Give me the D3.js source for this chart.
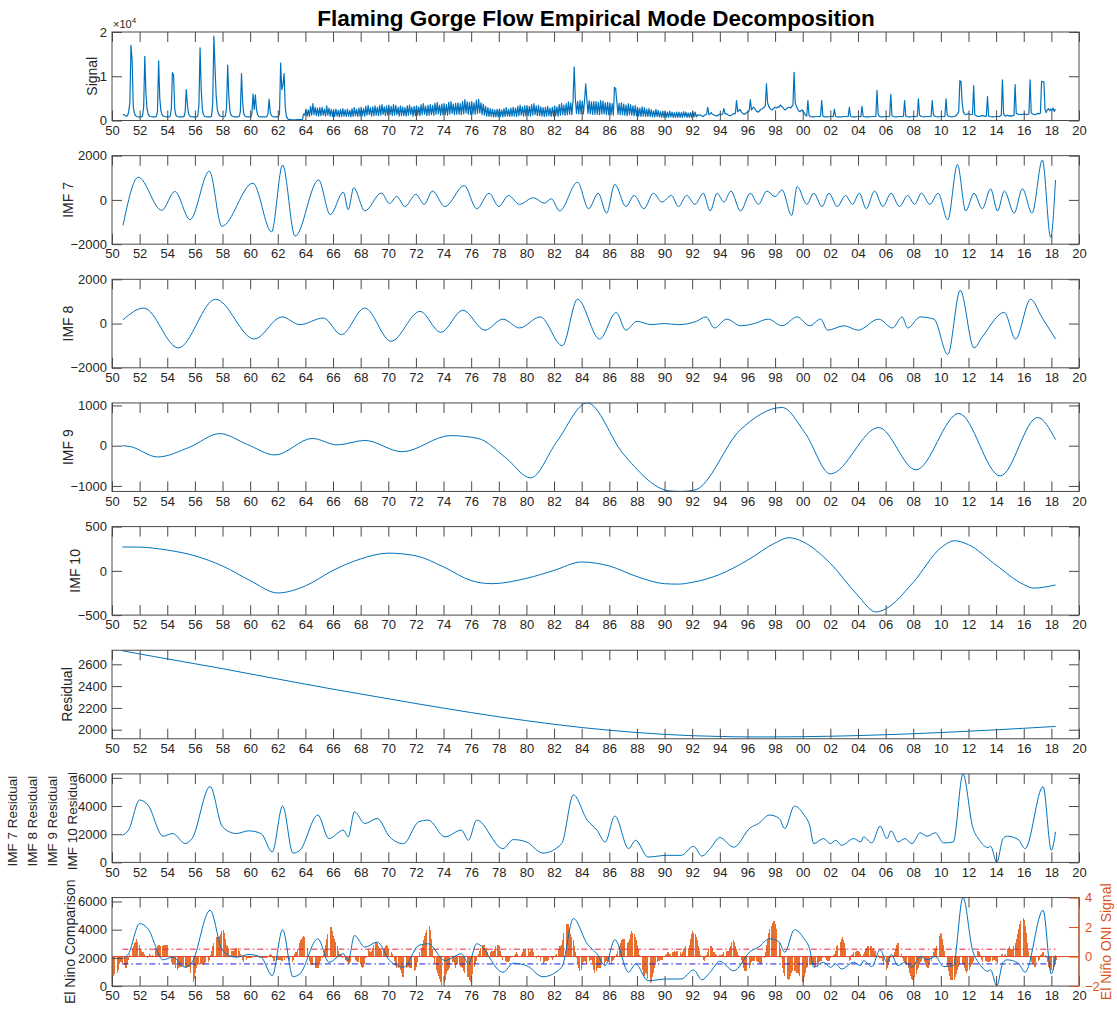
<!DOCTYPE html>
<html>
<head>
<meta charset="utf-8">
<script src="https://cdn.jsdelivr.net/npm/d3@7"></script>
<style>
  body { margin: 0; background: #fff; }
  svg { display: block; }
  text { font-family: "Liberation Sans", Arial, sans-serif; }
</style>
</head>
<body>
<svg id="chart" width="1117" height="1011"></svg>
<script>
// ---------------------------------------------------------------
// Flaming Gorge flow and its empirical mode decomposition
// ---------------------------------------------------------------

// Monthly flow (cfs), starting October 1950. From 1964 to spring 1992
// successive months alternate between the high and low of the daily
// hydropower swings.
const flowStart = 1950.75;
const flow = [
  1400, 1300, 1100,
  1000, 1100, 2000, 4000, 17000, 13500, 3000, 1600, 1100, 900, 850, 800,
  800, 800, 1000, 3000, 14500, 6000, 2500, 1400, 1000, 900, 850, 800,
  800, 800, 900, 2000, 13500, 5000, 2200, 1300, 1000, 900, 850, 800,
  800, 800, 900, 2500, 10800, 10300, 2500, 1200, 900, 850, 800, 800,
  800, 800, 900, 1800, 7000, 3500, 1600, 1000, 850, 800, 800, 800,
  800, 800, 1000, 3500, 16400, 7000, 2500, 1300, 900, 850, 800, 800,
  800, 800, 1000, 4000, 19100, 12000, 5500, 2500, 1500, 1100, 950, 900,
  850, 850, 1000, 3000, 12500, 5500, 2000, 1200, 950, 850, 800, 800,
  800, 800, 900, 2000, 10600, 4000, 1500, 1000, 850, 800, 800, 800,
  800, 1500, 6000, 2500, 5800, 2500, 1300, 900, 800, 800, 800, 800,
  800, 800, 900, 1500, 4800, 1800, 1100, 900, 800, 800, 800, 800,
  800, 1500, 13000, 7000, 8000, 10600, 3000, 1000, 400, 250, 200, 180,
  170, 160, 160, 170, 200, 220, 220, 200, 180, 300, 1500, 1200,
  2600, 1000, 2400, 900, 3200, 1200, 3800, 1300, 3000, 1100, 2800, 1000,
  2900, 1100, 3000, 1200, 2600, 1000, 3300, 1200, 2800, 1000, 2500, 900,
  2400, 900, 2600, 1000, 2300, 800, 2500, 900, 2700, 1000, 2400, 900,
  2600, 1000, 2300, 800, 2700, 900, 2900, 1100, 2500, 900, 2800, 1000,
  3000, 1100, 2700, 1000, 3200, 1200, 3400, 1300, 2900, 1000, 3100, 1100,
  3300, 1200, 3000, 1100, 3400, 1200, 3600, 1400, 3100, 1100, 3300, 1200,
  3500, 1300, 3200, 1100, 3600, 1200, 3400, 1300, 3000, 1000, 3300, 1100,
  3100, 1100, 2900, 1000, 3300, 1200, 3500, 1300, 3000, 1000, 3200, 1100,
  3300, 1200, 3100, 1100, 3600, 1300, 3800, 1400, 3200, 1100, 3400, 1200,
  3600, 1300, 3400, 1200, 3900, 1400, 4100, 1500, 3500, 1200, 3700, 1300,
  3800, 1300, 3600, 1200, 4100, 1500, 4300, 1600, 3700, 1300, 3900, 1400,
  4000, 1400, 3800, 1300, 4300, 1500, 4700, 1700, 4200, 1400, 4100, 1400,
  4300, 1500, 4000, 1400, 4600, 1600, 4800, 1700, 4000, 1300, 3700, 1200,
  3200, 1000, 2900, 900, 2700, 900, 2600, 800, 2400, 800, 2500, 800,
  2600, 900, 2400, 800, 2700, 900, 2900, 1000, 2500, 900, 2800, 1000,
  3000, 1000, 2800, 900, 3200, 1100, 3500, 1200, 3100, 1000, 3300, 1100,
  3400, 1100, 3200, 1000, 3600, 1200, 3800, 1300, 3300, 1100, 3400, 1100,
  3100, 1000, 2900, 900, 3000, 1000, 3200, 1100, 2800, 900, 3000, 1000,
  3300, 1100, 3100, 1000, 3600, 1200, 3900, 1300, 3500, 1200, 3800, 1300,
  4200, 1400, 4000, 1300, 4600, 12100, 4800, 1600, 4300, 1500, 4500, 1500,
  4400, 1500, 4500, 8300, 4600, 1600, 4500, 1500, 4200, 1400, 4300, 1400,
  4300, 1400, 4100, 1300, 4500, 1500, 4400, 1500, 4000, 1300, 4100, 1300,
  4000, 1300, 3800, 1200, 7500, 7200, 4300, 1400, 3900, 1300, 4000, 1300,
  3700, 1200, 3500, 1100, 3800, 1300, 3600, 1200, 3300, 1100, 3400, 1100,
  3000, 1000, 2800, 900, 3100, 1000, 2900, 900, 2600, 900, 2700, 900,
  2400, 800, 2200, 800, 2500, 900, 2300, 800, 2000, 700, 2100, 700,
  2000, 700, 1900, 700, 2100, 800, 1900, 700, 1800, 700, 1900, 700,
  1900, 700, 1800, 700, 2000, 800, 1900, 700, 1700, 700, 1800, 700,
  2000, 800, 1900, 800, 1300, 1100, 1300, 1200, 1000, 900, 1100, 1300,
  1400, 3000, 1300, 1500, 1800, 1400, 1300, 1200, 1100, 1000, 1200, 1400,
  1400, 1300, 1500, 2700, 1600, 1500, 1400, 1200, 1100, 1100, 1300, 1500,
  1500, 1600, 4500, 2000, 2200, 2500, 2000, 1700, 1500, 1400, 1600, 1800,
  2000, 2200, 4700, 2400, 2800, 3000, 2600, 2200, 2000, 1900, 2200, 2500,
  2600, 2800, 3000, 3300, 8300, 4000, 3200, 2800, 2500, 2400, 2700, 2900,
  3000, 2800, 3100, 3000, 3500, 3300, 3000, 2700, 2400, 2500, 2800, 3000,
  3000, 2800, 3200, 3400, 10900, 4000, 3200, 2600, 2200, 2000, 2200, 2400,
  2000, 1600, 1200, 1000, 4500, 1200, 900, 850, 800, 800, 850, 900,
  900, 900, 850, 1000, 4500, 1000, 850, 800, 800, 800, 850, 900,
  900, 900, 850, 2600, 900, 850, 800, 800, 800, 800, 850, 900,
  900, 900, 850, 900, 3000, 900, 850, 800, 800, 800, 850, 900,
  900, 900, 850, 3200, 900, 850, 800, 800, 800, 800, 850, 900,
  900, 900, 850, 900, 6800, 1500, 900, 850, 800, 800, 850, 900,
  900, 900, 850, 900, 5900, 1200, 900, 850, 800, 800, 850, 900,
  900, 900, 850, 900, 4500, 1000, 900, 850, 800, 800, 850, 900,
  900, 900, 850, 900, 4900, 1200, 1000, 900, 850, 800, 850, 900,
  900, 900, 850, 900, 4500, 1400, 1000, 900, 850, 800, 850, 900,
  900, 900, 850, 900, 4900, 1300, 1000, 900, 850, 800, 850, 900,
  1000, 1200, 1500, 2000, 9000, 8800, 4000, 2000, 1500, 1300, 1400, 1500,
  1500, 1400, 1300, 1400, 7900, 1300, 1100, 1000, 900, 900, 1000, 1100,
  1100, 1000, 1000, 900, 5400, 1000, 900, 850, 800, 800, 850, 900,
  900, 900, 850, 1000, 1200, 9200, 1500, 1100, 1000, 1200, 1100, 1000,
  1100, 1000, 1100, 1200, 8100, 1600, 1500, 1400, 1300, 1400, 1300, 1400,
  1500, 1400, 1300, 1400, 1500, 9200, 1800, 1500, 1400, 1300, 1400, 1500,
  1600, 1500, 1700, 8850, 8800, 8700, 2500, 1800, 2400, 2700, 2200, 2600,
  2300, 2800, 2000, 2600
];

// Intrinsic mode functions: [decimal year, cfs]
const imf7 = [
  [1950.8,-1150],[1951.9,1025],[1953.6,-470],[1954.55,380],[1955.65,-890],[1957.05,1300],
  [1957.95,-1190],[1960.2,755],[1961.55,-1445],[1962.35,1580],[1963.25,-1640],[1964.95,900],
  [1965.8,-665],[1966.75,350],[1967.1,-440],[1967.5,550],[1968.3,-500],[1969.5,310],
  [1970.1,-170],[1970.6,160],[1971.2,-300],[1972,250],[1972.6,-200],[1973.2,400],
  [1974.1,-300],[1975.5,650],[1976.4,-400],[1977.3,300],[1978,-300],[1978.7,200],
  [1979.5,-200],[1980.5,100],[1981.3,-150],[1981.8,50],[1982.4,-500],[1983.7,800],
  [1984.5,-400],[1985.2,300],[1985.8,-600],[1986.4,700],[1987.2,-300],[1987.8,200],
  [1988.5,-400],[1989.2,300],[1989.8,-100],[1990.5,200],[1991,-300],[1991.6,200],
  [1992.2,-200],[1992.8,300],[1993.3,-500],[1993.8,300],[1994.3,-100],[1994.8,400],
  [1995.5,-500],[1996.2,300],[1996.8,-200],[1997.4,400],[1998.0,150],[1998.5,450],
  [1999.2,-700],[1999.6,600],[2000.3,-200],[2000.8,300],[2001.4,-300],[2001.9,300],
  [2002.5,-300],[2003.1,200],[2003.6,-200],[2004.1,300],[2004.6,-400],[2005.2,400],
  [2005.8,-300],[2006.4,300],[2007,-300],[2007.6,200],[2008.1,-200],[2008.6,300],
  [2009.2,-200],[2009.8,300],[2010.5,-900],[2011.2,1600],[2011.8,-500],[2012.4,300],
  [2013,-400],[2013.6,500],[2014.1,-500],[2014.6,400],[2015.3,-600],[2015.9,500],
  [2016.6,-600],[2017.35,1800],[2017.95,-1700],[2018.3,900]
];
const imf8 = [
  [1950.8,170],[1952.3,700],[1954.8,-1100],[1957.5,1100],[1960.3,-700],[1962.3,300],
  [1963.6,-50],[1965.3,250],[1966.6,-500],[1968.3,700],[1970.2,-800],[1972.3,550],
  [1973.8,-400],[1975.4,600],[1977,-300],[1978.3,200],[1979.5,-200],[1981,300],
  [1982.6,-1000],[1983.7,1100],[1985.3,-700],[1986.5,500],[1987.2,-300],[1988,100],
  [1989,-50],[1990,0],[1991,-50],[1992.3,100],[1993,300],[1993.6,-200],[1994.5,200],
  [1995.5,-100],[1996.5,0],[1997.5,200],[1998.5,-100],[1999.6,300],[2000.5,-100],
  [2001.3,200],[2001.8,-300],[2003,-100],[2004,-300],[2005.5,200],[2006.5,-200],
  [2007.2,300],[2007.6,-200],[2008.5,300],[2009.5,200],[2010.5,-1400],[2011.4,1500],
  [2012.4,-1100],[2013,-600],[2014.6,500],[2015.4,-700],[2016.5,1100],[2017.3,300],
  [2018.3,-700]
];
const imf9 = [
  [1950.75,0],[1951.3,-20],[1953.3,-280],[1955.6,-40],[1957.8,300],[1959.8,30],
  [1961.8,-230],[1964.5,180],[1966.3,20],[1968.3,130],[1971,-150],[1974.5,250],
  [1976.5,180],[1978.5,-300],[1980.3,-800],[1982.2,100],[1984.4,1062],[1987,-200],
  [1990.3,-1120],[1991.2,-1137],[1992.2,-1100],[1995.5,400],[1998.5,950],[2000.2,300],
  [2002,-700],[2005.5,450],[2008.2,-600],[2011.3,800],[2014.3,-750],[2017,700],[2018.3,150]
];
const imf10 = [
  [1950.75,270],[1952,268],[1954,235],[1956,170],[1958,55],[1960,-110],[1962,-250],
  [1964,-170],[1966,5],[1968,135],[1970,200],[1972,170],[1974,45],[1976,-110],
  [1977.5,-145],[1980,-85],[1982,5],[1984,100],[1986,55],[1988,-65],[1990,-145],
  [1991,-150],[1992,-130],[1994,-40],[1996,120],[1998,315],[1999,375],[2000,330],
  [2002,85],[2004,-280],[2005.3,-465],[2006,-430],[2008,-130],[2010,260],[2011,340],
  [2012,295],[2014,65],[2016,-155],[2016.7,-195],[2018.3,-160]
];
const residual = [
  [1950.75,2725],[1952,2695],[1954,2650],[1956,2605],[1958,2560],[1960,2512],
  [1962,2465],[1964,2418],[1966,2372],[1968,2328],[1970,2284],[1972,2240],
  [1974,2198],[1976,2157],[1978,2118],[1980,2083],[1982,2050],[1984,2020],
  [1986,1995],[1988,1974],[1990,1957],[1992,1945],[1994,1938],[1996,1934],
  [1998,1934],[2000,1936],[2002,1940],[2004,1946],[2006,1954],[2008,1963],
  [2010,1974],[2012,1986],[2014,1999],[2016,2013],[2018.3,2030]
];
// Sum of IMF 7-10 and the residual
const lowFreq = [
  [1950.75,1930],[1951.2,2300],[1952.0,4430],[1952.6,4070],[1953.7,1860],[1954.4,2050],
  [1955.3,1340],[1955.8,1700],[1957.1,5380],[1958.0,2520],[1959.0,2050],[1959.9,2240],
  [1960.8,2040],[1961.6,740],[1962.35,4000],[1963.1,660],[1963.6,860],[1964.9,3360],
  [1965.7,1690],[1966.75,2290],[1967.1,1810],[1967.55,3590],[1968.3,2760],[1969.2,3120],
  [1970.1,1810],[1971.1,1330],[1972.2,2880],[1972.9,3000],[1974.1,1810],[1975.3,2290],
  [1975.8,1570],[1976.4,3000],[1978.3,980],[1979.05,1620],[1980.0,1450],[1981.2,660],
  [1982.55,1330],[1983.4,4790],[1984.4,3000],[1985.1,2290],[1985.7,1450],[1986.4,3290],
  [1987.4,980],[1987.9,1570],[1988.8,380],[1990.15,500],[1991.2,500],[1992.1,1140],
  [1992.7,450],[1993.3,980],[1994.0,1760],[1995.0,1080],[1996.2,2450],[1996.8,2760],
  [1997.6,3360],[1998.3,3120],[1998.7,2400],[1999.4,4000],[2000.1,3360],[2000.5,2640],
  [2000.8,1330],[2001.5,1690],[2002.0,1330],[2002.4,1570],[2002.8,1210],[2003.7,1690],
  [2004.2,1450],[2004.4,1810],[2005.0,1380],[2005.6,2570],[2006.1,1690],[2006.4,2240],
  [2006.9,1450],[2007.4,1690],[2007.9,1330],[2008.5,2100],[2009.0,1860],[2009.6,2100],
  [2010.2,1380],[2010.9,1450],[2011.6,6280],[2012.3,2520],[2012.8,1570],[2013.4,1050],
  [2013.6,1150],[2014.05,0],[2014.5,1690],[2014.8,1860],[2015.6,1620],[2016.1,980],
  [2017.4,5380],[2018.0,860],[2018.3,2170]
];

// Oceanic Nino Index, monthly from January 1950
const oniStart = 1950;
const oni = [
  -1.5,-1.3,-1.2,-1.2,-1.1,-0.9,-0.5,-0.4,-0.4,-0.5,-0.6,-0.8,
  -0.8,-0.5,-0.2,0.2,0.4,0.6,0.7,0.9,1.0,1.2,1.0,0.8,
  0.5,0.4,0.3,0.3,0.2,0.0,-0.1,0.0,0.2,0.1,0.0,0.1,
  0.4,0.6,0.6,0.7,0.8,0.8,0.7,0.7,0.8,0.8,0.8,0.8,
  0.8,0.5,0.0,-0.4,-0.5,-0.5,-0.6,-0.8,-0.9,-0.8,-0.7,-0.7,
  -0.7,-0.6,-0.7,-0.8,-0.8,-0.7,-0.7,-0.7,-1.1,-1.4,-1.7,-1.5,
  -1.1,-0.8,-0.6,-0.5,-0.5,-0.5,-0.6,-0.6,-0.5,-0.4,-0.4,-0.4,
  -0.2,0.1,0.4,0.7,0.9,1.1,1.3,1.3,1.3,1.4,1.5,1.7,
  1.8,1.6,1.2,0.8,0.7,0.6,0.5,0.4,0.4,0.4,0.5,0.6,
  0.6,0.6,0.4,0.2,0.0,-0.2,-0.4,-0.4,-0.2,-0.1,-0.1,-0.1,
  -0.1,-0.1,-0.1,0.0,0.0,0.0,0.1,0.0,-0.1,-0.1,-0.1,-0.1,
  -0.1,-0.1,-0.1,0.0,0.1,0.2,0.1,-0.1,-0.3,-0.3,-0.2,-0.2,
  -0.2,-0.2,-0.2,-0.3,-0.3,-0.2,0.0,-0.1,-0.1,-0.2,-0.3,-0.4,
  -0.4,-0.2,0.2,0.3,0.3,0.5,0.9,1.1,1.2,1.3,1.4,1.3,
  1.1,0.6,0.1,-0.3,-0.6,-0.6,-0.6,-0.7,-0.8,-0.8,-0.8,-0.8,
  -0.6,-0.3,-0.1,0.2,0.5,0.8,1.2,1.5,1.9,2.0,2.0,1.7,
  1.4,1.2,1.0,0.7,0.4,0.2,0.2,0.1,-0.1,-0.1,-0.2,-0.3,
  -0.4,-0.5,-0.5,-0.4,-0.2,0.0,0.0,-0.2,-0.3,-0.4,-0.4,-0.5,
  -0.7,-0.8,-0.7,-0.5,-0.1,0.2,0.5,0.4,0.3,0.4,0.6,0.8,
  0.9,1.0,0.9,0.7,0.6,0.5,0.4,0.4,0.6,0.7,0.8,0.7,
  0.5,0.3,0.3,0.2,0.0,-0.3,-0.6,-0.8,-0.8,-0.7,-0.9,-1.1,
  -1.4,-1.4,-1.1,-0.8,-0.7,-0.7,-0.8,-0.8,-0.8,-0.9,-1.0,-0.9,
  -0.7,-0.4,0.0,0.3,0.6,0.8,1.1,1.4,1.6,1.8,2.1,2.1,
  1.8,1.2,0.5,-0.1,-0.5,-0.9,-1.1,-1.3,-1.5,-1.7,-1.9,-2.0,
  -1.8,-1.6,-1.2,-1.0,-0.9,-0.8,-0.5,-0.4,-0.4,-0.6,-0.8,-0.6,
  -0.5,-0.6,-0.7,-0.7,-0.8,-1.0,-1.1,-1.2,-1.4,-1.4,-1.6,-1.7,
  -1.6,-1.2,-0.7,-0.5,-0.3,0.0,0.2,0.4,0.6,0.8,0.8,0.8,
  0.6,0.6,0.3,0.3,0.3,0.4,0.4,0.4,0.5,0.7,0.8,0.8,
  0.7,0.4,0.1,-0.2,-0.3,-0.3,-0.4,-0.4,-0.4,-0.3,-0.1,0.0,
  0.0,0.1,0.2,0.3,0.2,0.0,0.0,0.2,0.3,0.5,0.5,0.6,
  0.6,0.5,0.3,0.4,0.5,0.5,0.3,0.0,-0.1,0.0,0.1,0.0,
  -0.3,-0.5,-0.5,-0.4,-0.3,-0.3,-0.3,-0.2,-0.2,-0.1,-0.2,-0.1,
  0.0,0.1,0.2,0.5,0.7,0.7,0.8,1.1,1.6,2.0,2.2,2.2,
  2.2,1.9,1.5,1.3,1.1,0.7,0.3,-0.1,-0.5,-0.8,-1.0,-0.9,
  -0.6,-0.4,-0.3,-0.4,-0.5,-0.4,-0.3,-0.2,-0.2,-0.6,-0.9,-1.1,
  -1.0,-0.8,-0.8,-0.8,-0.8,-0.6,-0.5,-0.5,-0.4,-0.3,-0.3,-0.4,
  -0.5,-0.5,-0.3,-0.2,-0.1,0.0,0.2,0.4,0.7,0.9,1.1,1.2,
  1.2,1.2,1.1,0.9,1.0,1.2,1.5,1.7,1.6,1.5,1.3,1.1,
  0.8,0.5,0.1,-0.3,-0.9,-1.3,-1.3,-1.1,-1.2,-1.5,-1.8,-1.8,
  -1.7,-1.4,-1.1,-0.8,-0.6,-0.4,-0.3,-0.3,-0.2,-0.2,-0.2,-0.1,
  0.1,0.2,0.3,0.3,0.2,0.2,0.3,0.3,0.4,0.3,0.4,0.4,
  0.4,0.3,0.2,0.3,0.5,0.6,0.7,0.6,0.6,0.8,1.2,1.5,
  1.7,1.6,1.5,1.3,1.1,0.7,0.4,0.1,-0.1,-0.2,-0.3,-0.1,
  0.1,0.3,0.5,0.7,0.7,0.6,0.3,0.3,0.2,0.1,0.0,0.1,
  0.1,0.1,0.2,0.3,0.4,0.4,0.4,0.4,0.6,0.7,1.0,1.1,
  1.0,0.7,0.5,0.3,0.1,0.0,-0.2,-0.5,-0.8,-1.0,-1.0,-1.0,
  -0.9,-0.8,-0.6,-0.4,-0.3,-0.3,-0.3,-0.3,-0.4,-0.4,-0.5,-0.5,
  -0.5,-0.4,-0.1,0.3,0.8,1.2,1.6,1.9,2.1,2.3,2.4,2.4,
  2.2,1.9,1.4,1.0,0.5,-0.1,-0.8,-1.1,-1.3,-1.4,-1.5,-1.6,
  -1.5,-1.3,-1.1,-1.0,-1.0,-1.0,-1.1,-1.1,-1.2,-1.3,-1.5,-1.7,
  -1.7,-1.4,-1.1,-0.8,-0.7,-0.6,-0.6,-0.5,-0.5,-0.6,-0.7,-0.7,
  -0.7,-0.5,-0.4,-0.3,-0.3,-0.1,-0.1,-0.1,-0.2,-0.3,-0.3,-0.3,
  -0.1,0.0,0.1,0.2,0.4,0.7,0.8,0.9,1.0,1.2,1.3,1.1,
  0.9,0.6,0.4,0.0,-0.3,-0.2,0.1,0.2,0.3,0.3,0.4,0.4,
  0.4,0.3,0.2,0.2,0.2,0.3,0.5,0.6,0.7,0.7,0.7,0.7,
  0.6,0.6,0.4,0.4,0.3,0.1,-0.1,-0.1,-0.1,-0.3,-0.6,-0.8,
  -0.9,-0.8,-0.6,-0.4,-0.1,0.0,0.1,0.3,0.5,0.8,0.9,0.9,
  0.7,0.2,-0.1,-0.3,-0.4,-0.5,-0.6,-0.8,-1.1,-1.3,-1.5,-1.6,
  -1.6,-1.4,-1.2,-0.9,-0.8,-0.5,-0.4,-0.3,-0.3,-0.4,-0.6,-0.7,
  -0.8,-0.8,-0.6,-0.3,0.0,0.3,0.5,0.6,0.7,1.0,1.4,1.6,
  1.5,1.2,0.8,0.4,-0.2,-0.7,-1.0,-1.3,-1.6,-1.6,-1.6,-1.6,
  -1.4,-1.2,-0.9,-0.7,-0.6,-0.4,-0.5,-0.6,-0.8,-1.0,-1.1,-1.0,
  -0.9,-0.7,-0.6,-0.5,-0.3,0.0,0.2,0.4,0.4,0.3,0.1,-0.2,
  -0.4,-0.4,-0.3,-0.3,-0.4,-0.4,-0.4,-0.3,-0.3,-0.2,-0.2,-0.3,
  -0.4,-0.5,-0.3,0.0,0.2,0.2,0.0,0.1,0.2,0.5,0.6,0.7,
  0.5,0.5,0.5,0.7,0.9,1.2,1.5,1.9,2.2,2.4,2.6,2.6,
  2.5,2.1,1.6,0.9,0.4,-0.1,-0.4,-0.5,-0.6,-0.7,-0.7,-0.6,
  -0.3,-0.2,0.1,0.2,0.3,0.3,0.1,-0.1,-0.4,-0.7,-0.8,-1.0,
  -0.9,-0.9,-0.7,-0.5,-0.2,0.0
];
const oniWarm = 0.5, oniCool = -0.5;

// Axis ticks
const xTicks = d3.range(1950, 2021, 2);
const signalTicks = [0, 10000, 20000];
const imfTicks = [-2000, 0, 2000];
const imf9Ticks = [-1000, 0, 1000];
const imf10Ticks = [-500, 0, 500];
const residualTicks = [2000, 2200, 2400, 2600];
const lowFreqTicks = [0, 2000, 4000, 6000];
const oniTicks = [-2, 0, 2, 4];

// ---------------------------------------------------------------
const svg = d3.select("#chart");
const left = 112, right = 1079;
const firstTop = 32, step = 123.65, panelH = 88.5;
const axisColor = "#4a4a4a", textColor = "#262626";
const blue = "#0072BD", orange = "#D95319";

const x = d3.scaleLinear().domain([1950, 2020]).range([left, right]);
const yearLabel = d => String(d % 100).padStart(2, "0");

svg.append("text")
  .attr("x", 596).attr("y", 26)
  .attr("text-anchor", "middle")
  .attr("font-size", 22.5).attr("font-weight", "bold")
  .attr("fill", "#000")
  .text("Flaming Gorge Flow Empirical Mode Decomposition");

function makePanel(i, domain) {
  const top = firstTop + i * step, bottom = top + panelH;
  const y = d3.scaleLinear().domain(domain).range([bottom, top]);
  const g = svg.append("g");
  const clipId = "clip" + i;
  svg.append("clipPath").attr("id", clipId)
    .append("rect").attr("x", left).attr("y", top - 0.5)
    .attr("width", right - left).attr("height", panelH + 1);
  const plot = g.append("g").attr("clip-path", `url(#${clipId})`);
  return { i, top, bottom, y, g, plot };
}

function drawAxes(p, ticks, fmt, opts = {}) {
  const g = p.g.append("g");
  // x axis with labels at the bottom, bare ticks at the top
  const xb = g.append("g").attr("transform", `translate(0,${p.bottom})`)
    .call(d3.axisBottom(x).tickValues(xTicks).tickFormat(yearLabel)
      .tickSize(-10).tickSizeOuter(0).tickPadding(5));
  const xt = g.append("g").attr("transform", `translate(0,${p.top})`)
    .call(d3.axisTop(x).tickValues(xTicks).tickFormat("")
      .tickSize(-10).tickSizeOuter(0));
  const yl = g.append("g").attr("transform", `translate(${left},0)`)
    .call(d3.axisLeft(p.y).tickValues(ticks).tickFormat(fmt)
      .tickSize(-10).tickSizeOuter(0).tickPadding(5));
  [xb, xt, yl].forEach(a => {
    a.select(".domain").remove();
    a.selectAll("line").attr("stroke", axisColor);
    a.selectAll("text").attr("fill", textColor)
      .attr("font-size", 13)
      .style("font-family", '"Liberation Sans", Arial, sans-serif');
  });
  if (!opts.noRightMirror) {
    const yr = g.append("g").attr("transform", `translate(${right},0)`)
      .call(d3.axisRight(p.y).tickValues(ticks).tickFormat("")
        .tickSize(-10).tickSizeOuter(0));
    yr.select(".domain").remove();
    yr.selectAll("line").attr("stroke", axisColor);
  }
  g.append("rect")
    .attr("x", left).attr("y", p.top)
    .attr("width", right - left).attr("height", panelH)
    .attr("fill", "none").attr("stroke", axisColor).attr("stroke-width", 1);
}

function yLabel(lines, cx, cy, color = textColor, size = 14) {
  lines.forEach((s, k) => {
    svg.append("text")
      .attr("transform", `translate(${cx[k]},${cy}) rotate(-90)`)
      .attr("text-anchor", "middle")
      .attr("font-size", size).attr("fill", color)
      .text(s);
  });
}

const line = y => d3.line().x(d => x(d[0])).y(d => y(d[1])).curve(d3.curveMonotoneX);
function drawSeries(p, data) {
  p.plot.append("path").datum(data)
    .attr("d", line(p.y))
    .attr("fill", "none").attr("stroke", blue).attr("stroke-width", 1);
}

// --- Signal -------------------------------------------------------
const pSig = makePanel(0, [0, 20000]);
const flowPts = flow.map((v, k) => [flowStart + (k + 0.5) / 12, v]);
pSig.plot.append("path").datum(flowPts)
  .attr("d", d3.line().x(d => x(d[0])).y(d => pSig.y(d[1])))
  .attr("fill", "none").attr("stroke", blue).attr("stroke-width", 1.2)
  .attr("stroke-linejoin", "round");
drawAxes(pSig, signalTicks, d => String(d / 10000));
svg.append("text").attr("x", 113).attr("y", 28)
  .attr("font-size", 11).attr("fill", textColor)
  .html('\u00D710<tspan dy="-5" font-size="8">4</tspan>');
yLabel(["Signal"], [97], (pSig.top + pSig.bottom) / 2);

// --- IMF 7 .. IMF 10 ----------------------------------------------
const p7 = makePanel(1, [-2000, 2000]);
drawSeries(p7, imf7);
drawAxes(p7, imfTicks, d3.format("d"));
yLabel(["IMF 7"], [73], (p7.top + p7.bottom) / 2);

const p8 = makePanel(2, [-2000, 2000]);
drawSeries(p8, imf8);
drawAxes(p8, imfTicks, d3.format("d"));
yLabel(["IMF 8"], [73], (p8.top + p8.bottom) / 2);

const p9 = makePanel(3, [-1137, 1062]);
drawSeries(p9, imf9);
drawAxes(p9, imf9Ticks, d3.format("d"));
yLabel(["IMF 9"], [73], (p9.top + p9.bottom) / 2);

const p10 = makePanel(4, [-500, 500]);
drawSeries(p10, imf10);
drawAxes(p10, imf10Ticks, d3.format("d"));
yLabel(["IMF 10"], [80], (p10.top + p10.bottom) / 2);

// --- Residual -----------------------------------------------------
const pRes = makePanel(5, [1917, 2729]);
drawSeries(pRes, residual);
drawAxes(pRes, residualTicks, d3.format("d"));
yLabel(["Residual"], [72], (pRes.top + pRes.bottom) / 2);

// --- Low-frequency sum ------------------------------------------
const pLow = makePanel(6, [0, 6280]);
drawSeries(pLow, lowFreq);
drawAxes(pLow, lowFreqTicks, d3.format("d"));
yLabel(["IMF 7 Residual", "IMF 8 Residual", "IMF 9 Residual", "IMF 10 Residual"],
  [17, 37, 57, 76.5], (pLow.top + pLow.bottom) / 2 + 3, textColor, 13.5);

// --- El Nino comparison -------------------------------------------
const pEn = makePanel(7, [0, 6280]);
const yOni = d3.scaleLinear().domain([-2, 4]).range([pEn.bottom, pEn.top]);
const monthW = x(oniStart + 1 / 12) - x(oniStart);
pEn.plot.append("g").attr("shape-rendering", "crispEdges").selectAll("rect")
  .data(oni.map((v, k) => [oniStart + (k + 0.5) / 12, v]))
  .join("rect")
  .attr("x", d => x(d[0]) - monthW * 0.4)
  .attr("width", monthW * 0.8)
  .attr("y", d => yOni(Math.max(0, d[1])))
  .attr("height", d => Math.abs(yOni(d[1]) - yOni(0)))
  .attr("fill", "#E8702F");
pEn.plot.append("line")
  .attr("x1", left).attr("x2", right)
  .attr("y1", yOni(0)).attr("y2", yOni(0))
  .attr("stroke", "#E0452A").attr("stroke-width", 1);
const t0 = lowFreq[0][0], t1 = lowFreq[lowFreq.length - 1][0];
[[oniWarm, "#F0203C"], [oniCool, "#1A1AE6"]].forEach(([v, c]) => {
  pEn.plot.append("line")
    .attr("x1", x(t0)).attr("x2", x(t1))
    .attr("y1", yOni(v)).attr("y2", yOni(v))
    .attr("stroke", c).attr("stroke-width", 1)
    .attr("stroke-dasharray", "6,3,1.5,3");
});
drawSeries(pEn, lowFreq);
drawAxes(pEn, lowFreqTicks, d3.format("d"), { noRightMirror: true });
const ra = pEn.g.append("g").attr("transform", `translate(${right},0)`)
  .call(d3.axisRight(yOni).tickValues(oniTicks).tickFormat(d3.format("d"))
    .tickSize(-10).tickSizeOuter(0).tickPadding(6));
ra.select(".domain").remove();
ra.selectAll("line").attr("stroke", orange);
ra.selectAll("text").attr("fill", orange).attr("font-size", 13)
  .style("font-family", '"Liberation Sans", Arial, sans-serif');
pEn.g.append("line")
  .attr("x1", right).attr("x2", right)
  .attr("y1", pEn.top).attr("y2", pEn.bottom)
  .attr("stroke", orange).attr("stroke-width", 1);
yLabel(["El Nino Comparison"], [75], (pEn.top + pEn.bottom) / 2);
yLabel(["El Ni\u00F1o ONI Signal"], [1111], (pEn.top + pEn.bottom) / 2, orange);
</script>
</body>
</html>
